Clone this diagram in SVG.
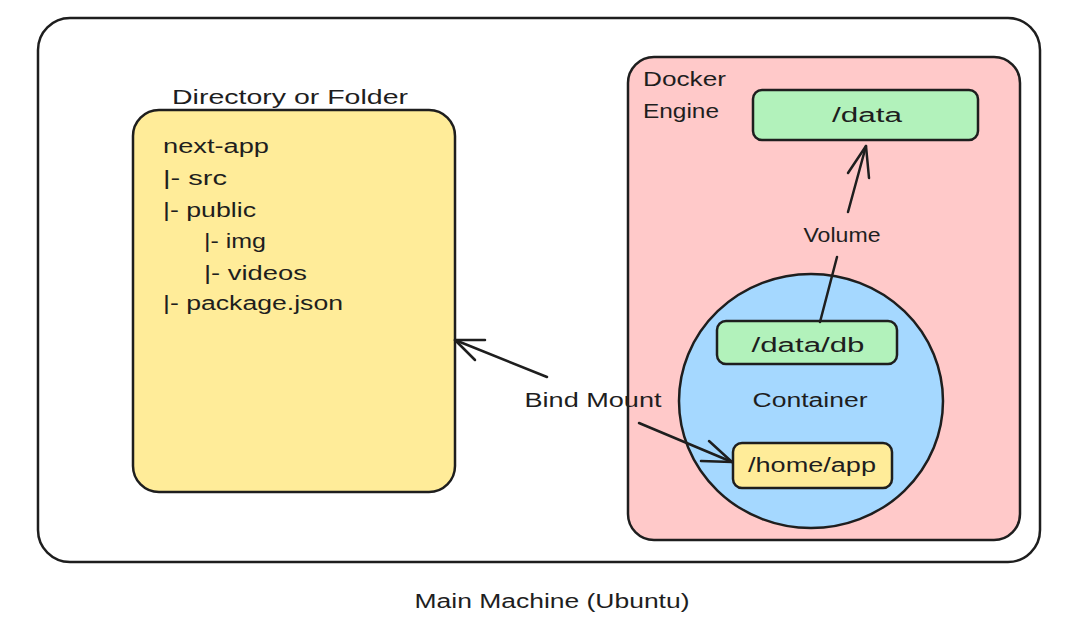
<svg xmlns="http://www.w3.org/2000/svg" width="1085" height="631" viewBox="0 0 1085 631">
<style>
.s{stroke:#1e1e1e;stroke-width:2.5;stroke-linecap:round;stroke-linejoin:round}
.ln{fill:none;stroke:#1e1e1e;stroke-width:2.5;stroke-linecap:round;stroke-linejoin:round}
text{font-family:"Liberation Sans","DejaVu Sans",sans-serif;font-size:20px;fill:#1e1e1e}
.c{text-anchor:middle}
</style>
<rect width="1085" height="631" fill="#ffffff"/>
<g id="main-machine">
<rect class="s" x="38" y="18" width="1002" height="544" rx="32" fill="#ffffff"/>
<text class="c" x="552" y="608" textLength="275" lengthAdjust="spacingAndGlyphs">Main Machine (Ubuntu)</text>
</g>
<g id="directory">
<rect class="s" x="133" y="110" width="322" height="382" rx="26" fill="#ffec99"/>
<text class="c" x="290" y="104" textLength="236" lengthAdjust="spacingAndGlyphs">Directory or Folder</text>
<text x="163" y="153" textLength="106" lengthAdjust="spacingAndGlyphs">next-app</text>
<text x="163" y="185" textLength="64" lengthAdjust="spacingAndGlyphs">|- src</text>
<text x="163" y="217" textLength="93" lengthAdjust="spacingAndGlyphs">|- public</text>
<text x="204" y="248" textLength="62" lengthAdjust="spacingAndGlyphs">|- img</text>
<text x="204" y="280" textLength="103" lengthAdjust="spacingAndGlyphs">|- videos</text>
<text x="163" y="310" textLength="180" lengthAdjust="spacingAndGlyphs">|- package.json</text>
</g>
<g id="docker-engine">
<rect class="s" x="628" y="57" width="392" height="483" rx="26" fill="#ffc9c9"/>
<text x="643" y="86" textLength="83" lengthAdjust="spacingAndGlyphs">Docker</text>
<text x="643" y="118" textLength="76" lengthAdjust="spacingAndGlyphs">Engine</text>
</g>
<g id="volume-data">
<rect class="s" x="753" y="90" width="225" height="50" rx="9" fill="#b2f2bb"/>
<text class="c" x="867" y="122" textLength="70" lengthAdjust="spacingAndGlyphs">/data</text>
</g>
<g id="container">
<ellipse class="s" cx="811" cy="401" rx="132" ry="127" fill="#a5d8ff"/>
<text class="c" x="810" y="407" textLength="115" lengthAdjust="spacingAndGlyphs">Container</text>
</g>
<g id="data-db">
<rect class="s" x="717" y="321" width="180" height="43" rx="9" fill="#b2f2bb"/>
<text class="c" x="808" y="352" textLength="113" lengthAdjust="spacingAndGlyphs">/data/db</text>
</g>
<g id="home-app">
<rect class="s" x="733" y="443" width="159" height="45" rx="9" fill="#ffec99"/>
<text class="c" x="812" y="472" textLength="128" lengthAdjust="spacingAndGlyphs">/home/app</text>
</g>
<g id="connectors">
<path class="ln" d="M820 322 L837 257"/>
<path class="ln" d="M848 212 L866 146"/>
<path class="ln" d="M848 173 L866 146 L869 178"/>
<text class="c" x="842" y="242" textLength="77" lengthAdjust="spacingAndGlyphs">Volume</text>
<path class="ln" d="M547 377 L455 340"/>
<path class="ln" d="M485 340 L455 340 L475 360"/>
<path class="ln" d="M639 423 L732 462"/>
<path class="ln" d="M709 441 L732 462 L701 461"/>
<text class="c" x="593" y="407" textLength="137" lengthAdjust="spacingAndGlyphs">Bind Mount</text>
</g>
</svg>
